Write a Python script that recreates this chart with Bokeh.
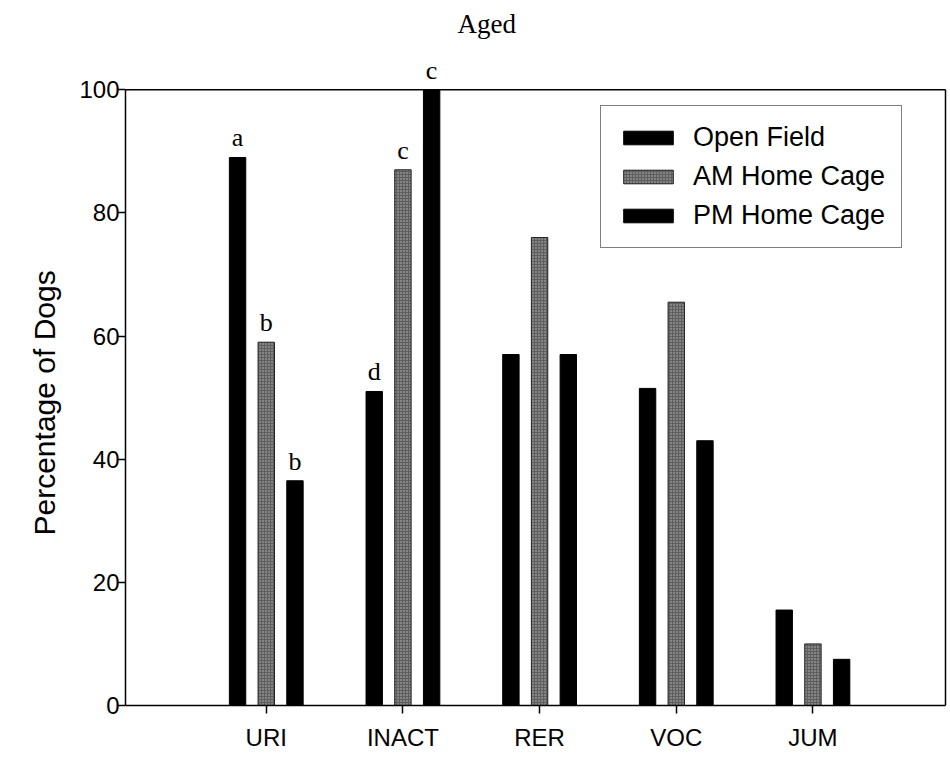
from bokeh.plotting import figure
from bokeh.models import (ColumnDataSource, FixedTicker, LabelSet, Legend,
                          LegendItem, LinearAxis, Range1d, Span, Title)
from bokeh.embed import file_html
from bokeh.resources import INLINE
import numpy as np

# Behaviours scored, and percentage of aged dogs showing each one
categories = ["URI", "INACT", "RER", "VOC", "JUM"]
open_field = [89, 51, 57, 51.5, 15.5]
am_home_cage = [59, 87, 76, 65.5, 10]
pm_home_cage = [36.5, 100, 57, 43, 7.5]

# Significance letters above the bars ("" = none)
letters_open = ["a", "d", "", "", ""]
letters_am = ["b", "c", "", "", ""]
letters_pm = ["b", "c", "", "", ""]

series_names = ["Open Field", "AM Home Cage", "PM Home Cage"]
y_ticks = [0, 20, 40, 60, 80, 100]
y_max = 100

SANS = "Liberation Sans"
SERIF = "Liberation Serif"

pos = np.arange(1, len(categories) + 1)
shift = 0.21
bar_w = 0.12

# headroom above 100 so the letter over a full-height bar stays visible
p = figure(width=950, height=761,
           x_range=Range1d(-0.03, 5.97), y_range=Range1d(0, 108),
           output_backend="svg", toolbar_location=None,
           min_border_left=125, min_border_right=5,
           min_border_top=40, min_border_bottom=56,
           background_fill_color="white", border_fill_color="white")

p.title.text = "Aged"
p.title.text_font = SERIF
p.title.text_font_size = "27px"
p.title.text_font_style = "normal"
p.title.text_color = "black"
p.title.align = "left"
p.title.offset = 332
p.title.standoff = 4

src = ColumnDataSource(dict(
    x_open=pos - shift, x_am=pos, x_pm=pos + shift,
    open=open_field, am=am_home_cage, pm=pm_home_cage,
    l_open=letters_open, l_am=letters_am, l_pm=letters_pm,
))

r_open = p.vbar(x="x_open", top="open", width=bar_w, source=src,
                fill_color="black", line_color="black", line_width=1)
r_am = p.vbar(x="x_am", top="am", width=bar_w, source=src,
              fill_color="#5e5e5e", line_color="#202020", line_width=1,
              hatch_pattern="dot", hatch_color="white", hatch_scale=3,
              hatch_weight=1.5, hatch_alpha=0.6)
r_pm = p.vbar(x="x_pm", top="pm", width=bar_w, source=src,
              fill_color="black", line_color="black", line_width=1)

for xcol, ycol, tcol in [("x_open", "open", "l_open"),
                         ("x_am", "am", "l_am"),
                         ("x_pm", "pm", "l_pm")]:
    p.add_layout(LabelSet(x=xcol, y=ycol, text=tcol, source=src,
                          text_align="center", text_baseline="bottom",
                          y_offset=5, text_font=SERIF,
                          text_font_size="26px", text_color="black"))

# box closed at 100 on top and on the right
p.add_layout(Span(location=y_max, dimension="width",
                  line_color="black", line_width=1.5))
right_axis = LinearAxis(bounds=(0, y_max), ticker=FixedTicker(ticks=[]),
                        axis_label=None,
                        major_tick_line_color=None,
                        minor_tick_line_color=None,
                        axis_line_color="black", axis_line_width=1.5)
p.add_layout(right_axis, "right")

legend = Legend(items=[LegendItem(label=n, renderers=[r])
                       for n, r in zip(series_names, [r_open, r_am, r_pm])],
                location=(475, 457),
                label_text_font=SANS, label_text_font_size="27px",
                label_text_color="black",
                glyph_width=62, glyph_height=17, label_height=24,
                label_standoff=14, spacing=8, padding=16, margin=0,
                border_line_color="black", border_line_width=1.5,
                background_fill_color="white", background_fill_alpha=1)
p.add_layout(legend)

p.xgrid.visible = False
p.ygrid.visible = False
p.outline_line_color = None

xax = p.xaxis[0]
yax = p.yaxis[0]
xax.ticker = FixedTicker(ticks=list(pos))
xax.major_label_overrides = {int(i): c for i, c in zip(pos, categories)}
yax.ticker = FixedTicker(ticks=y_ticks)
yax.bounds = (0, y_max)

for ax in (xax, yax):
    ax.axis_line_color = "black"
    ax.axis_line_width = 1.5
    ax.major_tick_line_color = "black"
    ax.major_tick_line_width = 1.5
    ax.major_tick_in = 0
    ax.major_tick_out = 8
    ax.minor_tick_line_color = None
    ax.major_label_text_font = SANS
    ax.major_label_text_font_size = "24px"
    ax.major_label_text_color = "black"

xax.major_label_standoff = 10
yax.major_label_standoff = -2

# y-axis title, centred on the 0-100 span rather than the whole frame
p.add_layout(Title(text="Percentage of Dogs", align="left", offset=170,
                   text_font=SANS, text_font_size="30px",
                   text_font_style="normal", text_color="black",
                   standoff=31), "left")

open("out.html", "w").write(file_html(p, INLINE))
